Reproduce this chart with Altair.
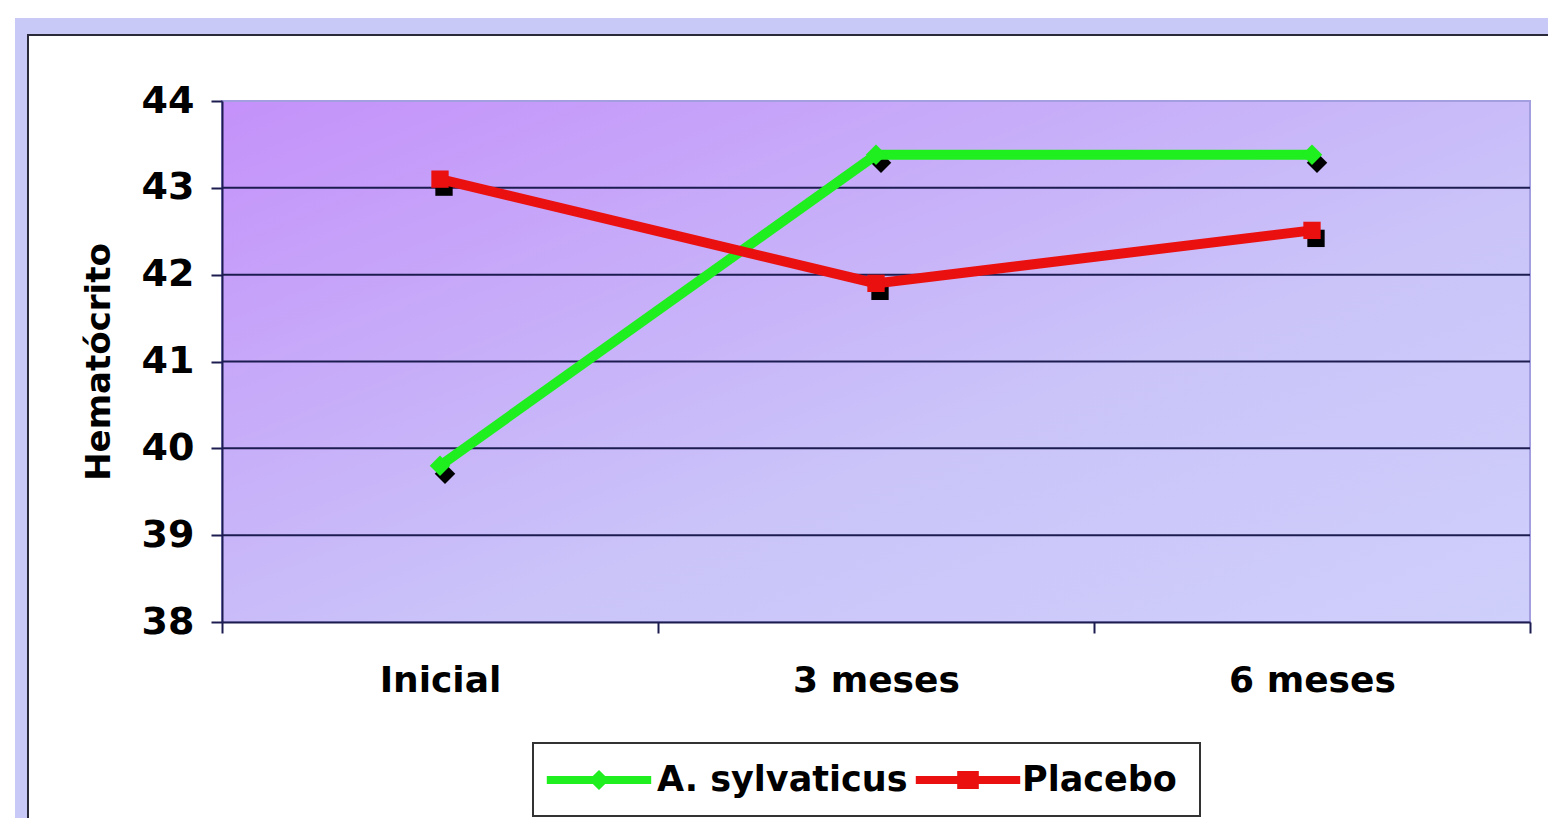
import altair as alt
import pandas as pd

# ---- data ----
periods = ["Inicial", "3 meses", "6 meses"]
series_names = ["A. sylvaticus", "Placebo"]
sylvaticus = [39.8, 43.38, 43.38]
placebo = [43.1, 41.9, 42.51]
y_ticks = [38, 39, 40, 41, 42, 43, 44]
grid_vals = [39, 40, 41, 42, 43]
series_colors = ["#1fee1f", "#ea1010"]

rows = []
for p, v in zip(periods, sylvaticus):
    rows.append({"periodo": p, "serie": series_names[0], "valor": v})
for p, v in zip(periods, placebo):
    rows.append({"periodo": p, "serie": series_names[1], "valor": v})
df = pd.DataFrame(rows)
grid_df = pd.DataFrame({"g": grid_vals})
bg_df = pd.DataFrame({"lo": [y_ticks[0]], "hi": [y_ticks[-1]]})
leg_df = pd.DataFrame({"serie": series_names})
one = pd.DataFrame({"a": [0]})

FONT = "DejaVu Sans"
AXIS_COL = "#1c1c50"
W, H = 1308, 521
LAV = "#c9c9f7"

x_enc = alt.X("periodo:N", sort=periods,
              scale=alt.Scale(domain=periods, paddingInner=0, paddingOuter=0),
              axis=alt.Axis(title=None, labelAngle=0, tickBand="extent", zindex=1,
                            labelFont=FONT, labelFontSize=36, labelFontWeight="bold",
                            labelColor="black", labelPadding=30,
                            domainColor=AXIS_COL, domainWidth=2,
                            tickColor=AXIS_COL, tickWidth=2, tickSize=11))
y_scale = alt.Scale(domain=[y_ticks[0], y_ticks[-1]], nice=False, zero=False)
y_axis = alt.Axis(values=y_ticks, format="d", title="Hematócrito", grid=False, zindex=1,
                  labelFont=FONT, labelFontSize=38, labelFontWeight="bold",
                  labelColor="black", labelPadding=17,
                  titleFont=FONT, titleFontSize=34, titleFontWeight="bold",
                  titleColor="black", titlePadding=25,
                  domainColor=AXIS_COL, domainWidth=2,
                  tickColor=AXIS_COL, tickWidth=2, tickSize=11)

# decorative slide frame (lavender bands + dark border of the white chart box)
lav_top = alt.Chart(one).mark_rect(color=LAV).encode(
    x=alt.value(-207), x2=alt.value(1330), y=alt.value(-83), y2=alt.value(-66))
lav_left = alt.Chart(one).mark_rect(color=LAV).encode(
    x=alt.value(-207), x2=alt.value(-194), y=alt.value(-83), y2=alt.value(730))
box = alt.Chart(one).mark_rect(filled=False, stroke="#2a2a3a", strokeWidth=2).encode(
    x=alt.value(-194), x2=alt.value(1340), y=alt.value(-66), y2=alt.value(740))

grad = alt.Gradient(gradient="linear", x1=0, y1=0, x2=1, y2=1,
                    stops=[alt.GradientStop(offset=0, color="#c491fa"),
                           alt.GradientStop(offset=0.3, color="#c7abf9"),
                           alt.GradientStop(offset=0.6, color="#cac4f9"),
                           alt.GradientStop(offset=1, color="#cfcffb")])
bg = alt.Chart(bg_df).mark_rect(color=grad, stroke="#a29edf", strokeWidth=2).encode(
    x=alt.value(0), x2=alt.value("width"),
    y=alt.Y("lo:Q", scale=y_scale, axis=y_axis), y2="hi:Q")

grid = alt.Chart(grid_df).mark_rule(color=AXIS_COL, strokeWidth=2).encode(
    x=alt.value(0), x2=alt.value("width"), y=alt.Y("g:Q", scale=y_scale))

base = alt.Chart(df)
y_enc = alt.Y("valor:Q", scale=y_scale)

shadow_d = base.transform_filter(alt.datum.serie == series_names[0]).mark_point(
    shape="diamond", filled=True, color="black", size=420, opacity=1,
    xOffset=5, yOffset=8).encode(x=x_enc, y=y_enc)
shadow_s = base.transform_filter(alt.datum.serie == series_names[1]).mark_point(
    shape="square", filled=True, color="black", size=300, opacity=1,
    xOffset=4, yOffset=8).encode(x=x_enc, y=y_enc)

lines = base.transform_calculate(
    idx="indexof(['Inicial','3 meses','6 meses'], datum.periodo)").mark_line(strokeWidth=10).encode(
    x=x_enc, y=y_enc,
    stroke=alt.Stroke("serie:N", scale=alt.Scale(domain=series_names, range=series_colors),
                      legend=None),
    order=alt.Order("idx:Q"))

pts_d = base.transform_filter(alt.datum.serie == series_names[0]).mark_point(
    shape="diamond", filled=True, color=series_colors[0], size=420, opacity=1).encode(x=x_enc, y=y_enc)
pts_s = base.transform_filter(alt.datum.serie == series_names[1]).mark_point(
    shape="square", filled=True, color=series_colors[1], size=300, opacity=1).encode(x=x_enc, y=y_enc)

# ---- legend (boxed, below the plot) ----
path_diamond = ("M-2.9,-0.22 L-0.34,-0.22 L0,-0.56 L0.34,-0.22 L2.9,-0.22 L2.9,0.22 "
                "L0.34,0.22 L0,0.56 L-0.34,0.22 L-2.9,0.22 Z")
path_square = ("M-2.9,-0.22 L-0.6,-0.22 L-0.6,-0.5 L0.6,-0.5 L0.6,-0.22 L2.9,-0.22 L2.9,0.22 "
               "L0.6,0.22 L0.6,0.5 L-0.6,0.5 L-0.6,0.22 L-2.9,0.22 Z")
LEG_Y = 679
leg_box = alt.Chart(one).mark_rect(color="white", stroke="#333333", strokeWidth=2).encode(
    x=alt.value(311), x2=alt.value(978), y=alt.value(642), y2=alt.value(715))
leg_layers = [leg_box]
sym_x = [377, 746]
txt_x = [435, 800]
paths = [path_diamond, path_square]
for i, name in enumerate(series_names):
    sub = alt.Chart(leg_df).transform_filter(alt.datum.serie == name)
    leg_layers.append(sub.mark_point(shape=paths[i], filled=True, color=series_colors[i],
                                     size=1296, opacity=1, strokeWidth=0).encode(
        x=alt.value(sym_x[i]), y=alt.value(LEG_Y)))
    leg_layers.append(sub.mark_text(align="left", baseline="middle", font=FONT, fontSize=35,
                                    fontWeight="bold", color="black").encode(
        x=alt.value(txt_x[i]), y=alt.value(LEG_Y), text="serie:N"))

chart = alt.layer(lav_top, lav_left, box, bg, grid, shadow_d, shadow_s, lines,
                  pts_d, pts_s, *leg_layers).properties(
    width=W, height=H,
    padding={"left": 214, "top": 93, "right": 18, "bottom": 196},
    autosize=alt.AutoSizeParams(type="none"),
    background="white",
).configure_view(strokeWidth=0)

chart.save("out.html", embed_options={"renderer": "svg", "actions": False})
